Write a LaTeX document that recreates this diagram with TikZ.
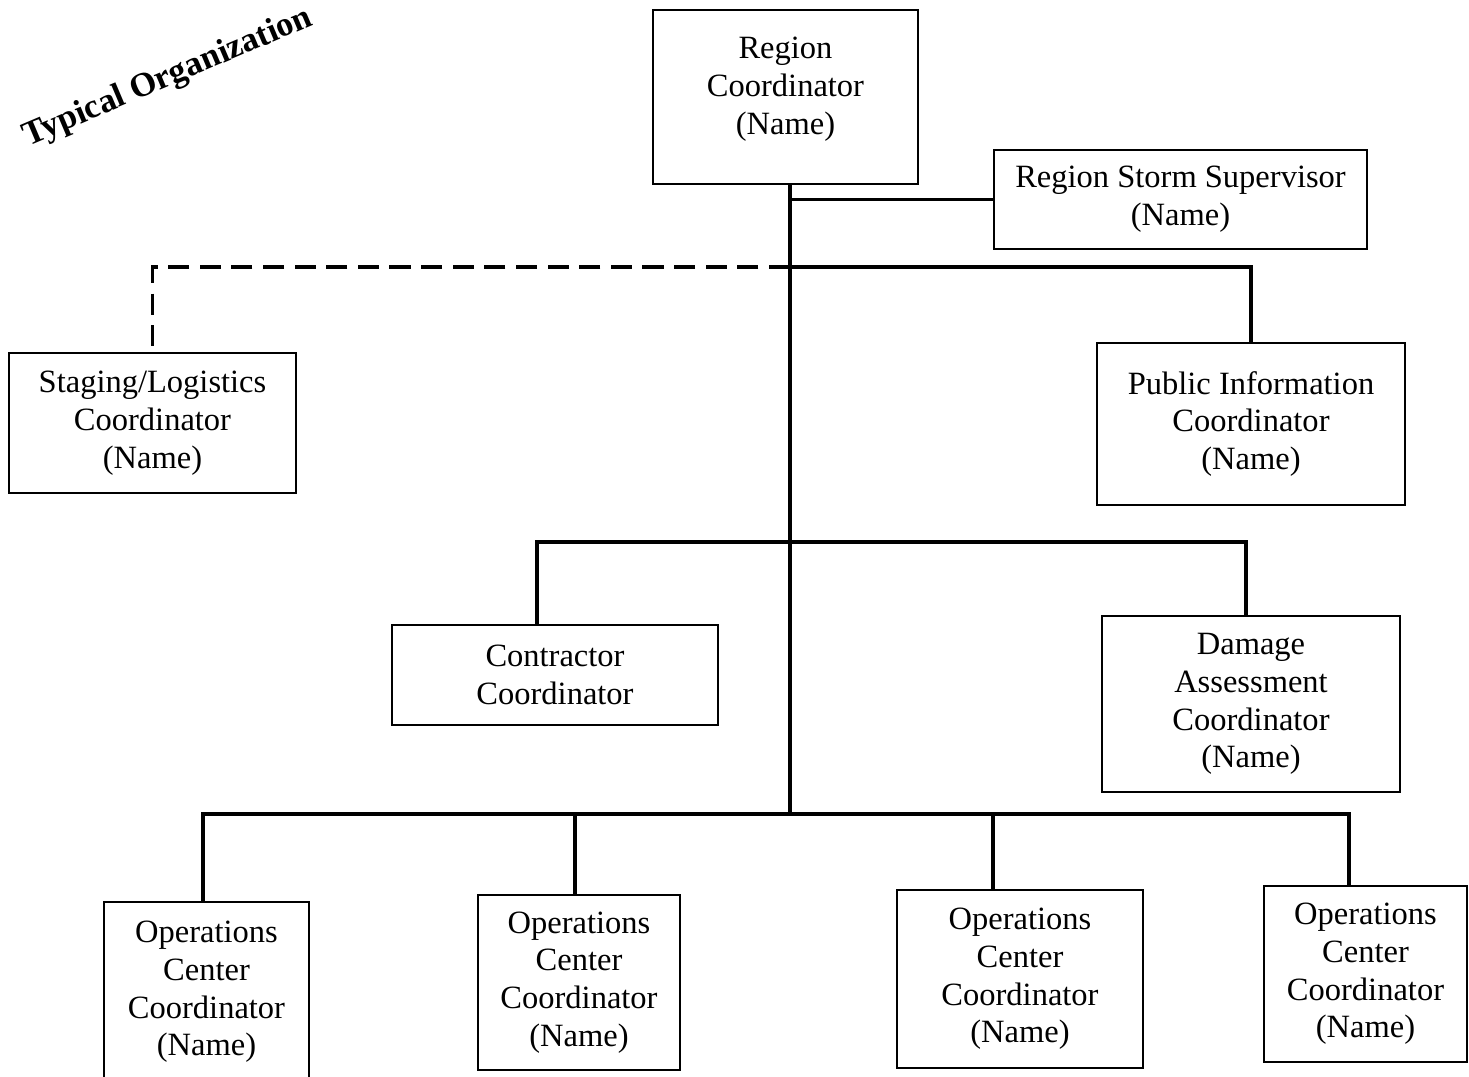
\documentclass[tikz,border=0pt]{standalone}
\usepackage{fontspec}
\setmainfont{Liberation Serif}
\usetikzlibrary{positioning}

\tikzset{
  post/.style={draw, line width=1.6pt, align=center, inner sep=0pt,
    font=\fontsize{18.5}{21.5}\selectfont},
  link/.style={line width=1.8pt},
  dotted link/.style={link, dash pattern=on 12pt off 6pt},
}

\begin{document}
\begin{tikzpicture}[x=0.02cm, y=-0.02cm]
\useasboundingbox (0,0) rectangle (1469,1077);

% title
\node[rotate=23, font=\fontsize{19.5}{22}\selectfont\bfseries] (title) at (168,78) {Typical Organization};

% upper level
\node[post, minimum width=5.30cm, minimum height=3.48cm] (rc) at (785.5,97) {Region\\Coordinator\\(Name)\\[-9pt]};
\node[post, minimum width=7.46cm, minimum height=1.98cm] (rss) at (1180.5,199.5) {Region Storm Supervisor\\(Name)};
\node[post, minimum width=5.74cm, minimum height=2.80cm] (slc) at (152.5,423) {Staging/Logistics\\Coordinator\\(Name)};
\node[post, minimum width=6.16cm, minimum height=3.24cm] (pic) at (1251,424) {Public Information\\Coordinator\\(Name)};

% middle level
\node[post, minimum width=6.52cm, minimum height=2.00cm] (cc) at (555,675) {Contractor\\Coordinator};
\node[post, minimum width=5.96cm, minimum height=3.52cm] (dac) at (1251,704) {Damage\\Assessment\\Coordinator\\(Name)};

% operations centers
\node[post, minimum width=4.10cm, minimum height=3.60cm] (occ1) at (206.5,992) {Operations\\Center\\Coordinator\\(Name)};
\node[post, minimum width=4.04cm, minimum height=3.50cm] (occ2) at (579,982.5) {Operations\\Center\\Coordinator\\(Name)};
\node[post, minimum width=4.92cm, minimum height=3.56cm] (occ3) at (1020,979) {Operations\\Center\\Coordinator\\(Name)};
\node[post, minimum width=4.06cm, minimum height=3.52cm] (occ4) at (1365.5,974) {Operations\\Center\\Coordinator\\(Name)};

% bus lines
\coordinate (top bus) at (790,267);
\coordinate (mid bus) at (790,542);
\coordinate (low bus) at (790,814);

\draw[link] (rc.south -| top bus) -- (low bus);
\draw[link] (rss.west -| top bus) -- (rss.west);
\draw[dotted link] (top bus) -| (slc.north);
\draw[link] (top bus) -| (pic.north);

\draw[link] (mid bus) -| ([xshift=-0.36cm]cc.north);
\draw[link] (mid bus) -| ([xshift=-0.10cm]dac.north);

\draw[link] (low bus) -| ([xshift=-0.07cm]occ1.north);
\draw[link] (low bus) -| ([xshift=-0.08cm]occ2.north);
\draw[link] (low bus) -| ([xshift=-0.54cm]occ3.north);
\draw[link] (low bus) -| ([xshift=-0.33cm]occ4.north);
\end{tikzpicture}
\end{document}
